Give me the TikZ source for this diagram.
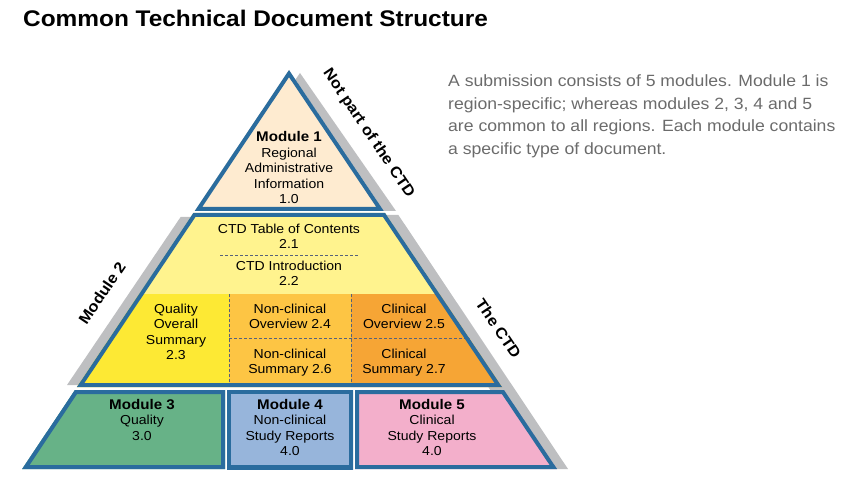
\documentclass[tikz,border=0pt]{standalone}
\usepackage{fontspec}
\setmainfont{Liberation Sans}[FakeStretch=1.08]
\definecolor{ctdblue}{HTML}{2A6C9E}
\definecolor{shadowgrey}{HTML}{BEBFC1}
\definecolor{modonefill}{HTML}{FEEBD0}
\definecolor{modtwotop}{HTML}{FFF38E}
\definecolor{qosfill}{HTML}{FDE934}
\definecolor{nonclinfill}{HTML}{FDC544}
\definecolor{clinfill}{HTML}{F6A535}
\definecolor{modthreefill}{HTML}{67B287}
\definecolor{modfourfill}{HTML}{97B5DB}
\definecolor{modfivefill}{HTML}{F3AFCB}
\definecolor{notegrey}{HTML}{6B6B6B}
\definecolor{dashcol}{HTML}{56627A}
% filled shape with an inner blue border (clip + double-width stroke)
\newcommand\ctdshape[2]{%
  \begin{scope}\clip #2; \fill[#1] #2; \draw[line width=8pt, draw=ctdblue] #2;\end{scope}}
\begin{document}
\begin{tikzpicture}[x=1pt,y=-1pt,
  divider/.style={draw=dashcol, line width=0.8pt, dash pattern=on 3pt off 2pt},
  bodytext/.style={anchor=base, inner sep=0pt, text=black,
    font=\fontsize{13}{15.5}\selectfont},
  sidelabel/.style={inner sep=0pt, text=black,
    font=\bfseries\fontsize{15.3}{18}\selectfont}]
\useasboundingbox (0,0) rectangle (850,494);

% title and note
\node[anchor=base west, inner sep=0pt, font=\bfseries\fontsize{22.6}{26}\selectfont]
  (title) at (23,27) {Common Technical Document Structure};
\node[anchor=base west, inner sep=0pt, text=notegrey, font=\fontsize{16.3}{22.5}\selectfont]
  (note) at (448,86.7) {\begin{tabular}[t]{@{}l@{}}
  A submission consists of 5 modules. Module 1 is\\
  region-specific; whereas modules 2, 3, 4 and 5\\
  are common to all regions. Each module contains\\
  a specific type of document.\end{tabular}};

% grey shadows
\fill[shadowgrey] (300,73) -- (396,211) -- (205,211) -- cycle;
\fill[shadowgrey] (380,215) -- (398.4,215) -- (568,469) -- (540,469) -- cycle;
\fill[shadowgrey] (180.6,217) -- (200,217) -- (90,385) -- (67,385) -- cycle;

% module 1
\ctdshape{modonefill}{(289,70) -- (383.8,211) -- (194.7,211) -- cycle}

% module 2
\begin{scope}
  \clip (193.3,213) -- (385.1,213) -- (502,387) -- (76.9,387) -- cycle;
  \fill[modtwotop] (0,200) rectangle (600,400);
  \fill[qosfill] (0,294) rectangle (229,400);
  \fill[nonclinfill] (229,294) rectangle (351,400);
  \fill[clinfill] (351,294) rectangle (600,400);
  \draw[divider] (220,255) -- (359,255);
  \draw[divider] (229,338) -- (600,338);
  \draw[divider] (229,294) -- (229,400);
  \draw[divider] (351,294) -- (351,400);
  \draw[line width=8pt, draw=ctdblue] (193.3,213) -- (385.1,213) -- (502,387) -- (76.9,387) -- cycle;
\end{scope}

% modules 3, 4, 5
\ctdshape{modthreefill}{(74.9,390) -- (225,390) -- (225,469) -- (22.1,469) -- cycle}
\ctdshape{modfourfill}{(227,390) -- (353,390) -- (353,469) -- (227,469) -- cycle}
\ctdshape{modfivefill}{(355,390) -- (504,390) -- (557.1,469) -- (355,469) -- cycle}

% texts inside the pyramid
\node[bodytext] (m1) at (289,141.7) {\begin{tabular}[t]{@{}c@{}}
  {\bfseries\fontsize{14}{15.5}\selectfont Module 1}\\ Regional\\ Administrative\\ Information\\ 1.0\end{tabular}};
\node[bodytext] (toc) at (289,233.3) {\begin{tabular}[t]{@{}c@{}}
  CTD Table of Contents\\ 2.1\end{tabular}};
\node[bodytext] (intro) at (289,270) {\begin{tabular}[t]{@{}c@{}}
  CTD Introduction\\ 2.2\end{tabular}};
\node[bodytext] (qos) at (176,313) {\begin{tabular}[t]{@{}c@{}}
  Quality\\ Overall\\ Summary\\ 2.3\end{tabular}};
\node[bodytext] (ncov) at (290,313) {\begin{tabular}[t]{@{}c@{}}
  Non-clinical\\ Overview 2.4\end{tabular}};
\node[bodytext] (cov) at (404,313) {\begin{tabular}[t]{@{}c@{}}
  Clinical\\ Overview 2.5\end{tabular}};
\node[bodytext] (ncsum) at (290,358) {\begin{tabular}[t]{@{}c@{}}
  Non-clinical\\ Summary 2.6\end{tabular}};
\node[bodytext] (csum) at (404,358) {\begin{tabular}[t]{@{}c@{}}
  Clinical\\ Summary 2.7\end{tabular}};
\node[bodytext] (m3) at (142,409.3) {\begin{tabular}[t]{@{}c@{}}
  {\bfseries\fontsize{14}{16.5}\selectfont Module 3}\\ Quality\\ 3.0\end{tabular}};
\node[bodytext] (m4) at (290,409.3) {\begin{tabular}[t]{@{}c@{}}
  {\bfseries\fontsize{14}{16.5}\selectfont Module 4}\\ Non-clinical\\ Study Reports\\ 4.0\end{tabular}};
\node[bodytext] (m5) at (432,409.3) {\begin{tabular}[t]{@{}c@{}}
  {\bfseries\fontsize{14}{16.5}\selectfont Module 5}\\ Clinical\\ Study Reports\\ 4.0\end{tabular}};

% side labels
\node[sidelabel, rotate=-56] (notctd) at (368.5,133.5) {Not part of the CTD};
\node[sidelabel, rotate=56] (mtwo) at (102,293) {Module 2};
\node[sidelabel, rotate=-56] (ctd) at (498.5,328.5) {The CTD};
\end{tikzpicture}
\end{document}
